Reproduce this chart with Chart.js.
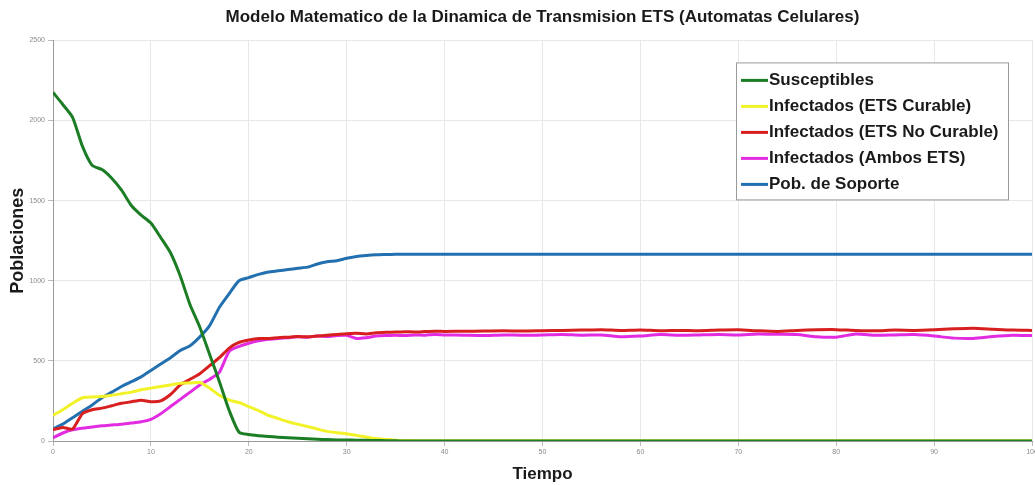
<!DOCTYPE html>
<html>
<head>
<meta charset="utf-8">
<script src="https://cdn.jsdelivr.net/npm/chart.js@4/dist/chart.umd.min.js"></script>
<style>
  html, body { margin: 0; padding: 0; background: #fff; }
  #wrap { width: 1035px; height: 485px; }
</style>
</head>
<body>
<div id="wrap"><canvas id="etsChart"></canvas></div>
<script>
// datos
const tiempo = [0,1,2,3,4,5,6,7,8,9,10,11,12,13,14,15,16,17,18,19,20,21,22,23,24,25,26,27,28,29,30,31,32,33,34,35,36,37,38,39,40,
    42,44,46,48,50,52,54,56,58,60,62,64,66,68,70,72,74,76,78,80,82,84,86,88,90,92,94,96,98,100];

const susceptibles = [2175,2100,2020,1840,1720,1694,1640,1565,1470,1410,1360,1270,1175,1030,850,710,540,370,190,55,40,33,28,24,20,17,14,11,9,7,6,5,4,3,2,1,0,0,0,0,0,
    0,0,0,0,0,0,0,0,0,0,0,0,0,0,0,0,0,0,0,0,0,0,0,0,0,0,0,0,0,0];
const infCurable = [160,195,235,270,275,278,285,295,305,320,330,340,350,360,362,365,330,285,255,240,215,190,160,140,120,105,90,75,60,52,45,35,25,15,10,5,3,2,2,2,2,
    2,2,2,2,2,2,2,2,2,2,2,2,2,2,2,2,2,2,2,2,2,2,2,2,2,2,2,2,2,2];
const infNoCurable = [70,85,75,170,195,205,220,235,245,255,245,250,290,350,385,420,470,520,580,615,630,640,640,645,648,652,650,655,660,665,670,672,668,675,678,680,682,680,683,685,684,
    685,686,688,686,688,690,692,695,690,693,688,690,688,692,694,688,684,690,694,695,690,688,692,690,694,700,704,698,692,690];
const infAmbos = [20,50,70,80,88,95,100,105,112,120,135,170,215,260,305,350,385,430,560,590,610,625,635,640,645,650,648,655,652,658,660,640,645,655,658,660,658,662,660,665,662,
    660,658,662,660,662,665,660,662,650,655,664,660,662,664,662,668,666,664,650,648,668,660,662,664,655,642,640,652,660,658];
const soporte = [75,105,145,185,225,270,305,340,370,400,440,480,520,565,595,650,720,835,920,1000,1020,1040,1055,1062,1070,1078,1085,1105,1118,1125,1140,1152,1158,1162,1164,1166,1166,1166,1166,1166,1166,
    1166,1166,1166,1166,1166,1166,1166,1166,1166,1166,1166,1166,1166,1166,1166,1166,1166,1166,1166,1166,1166,1166,1166,1166,1166,1166,1166,1166,1166,1166];

const yTicks = [0, 500, 1000, 1500, 2000, 2500];
const xTicks = [0, 10, 20, 30, 40, 50, 60, 70, 80, 90, 100];

const fuente = "'Liberation Sans', Arial, sans-serif";

function serie(label, valores, color) {
    return {
        label: label,
        data: valores.map((v, i) => ({ x: tiempo[i], y: v })),
        borderColor: color,
        backgroundColor: color,
        borderWidth: 3,
        pointRadius: 0,
        tension: 0.2,
        fill: false
    };
}

// leyenda con recuadro dentro del area del grafico
const leyendaCaja = {
    id: "leyendaCaja",
    afterDraw(chart) {
        const ctx = chart.ctx;
        const area = chart.chartArea;
        const right = area.right - 24;
        const top = area.top + 22;
        const width = 272;
        const left = right - width;
        const rowH = 26;
        const height = rowH * chart.data.datasets.length + 7;
        ctx.save();
        ctx.fillStyle = "#fff";
        ctx.fillRect(left, top, width, height);
        ctx.strokeStyle = "#9a9a9a";
        ctx.lineWidth = 1;
        ctx.strokeRect(left + 0.5, top + 0.5, width, height);
        ctx.font = "bold 17px " + fuente;
        ctx.textBaseline = "middle";
        chart.data.datasets.forEach((ds, i) => {
            const y = top + 18 + i * rowH;
            ctx.strokeStyle = ds.borderColor;
            ctx.lineWidth = 3;
            ctx.beginPath();
            ctx.moveTo(left + 5, y);
            ctx.lineTo(left + 32, y);
            ctx.stroke();
            ctx.fillStyle = "#1a1a1a";
            ctx.fillText(ds.label, left + 33, y);
        });
        ctx.restore();
    }
};

new Chart(document.getElementById("etsChart"), {
    type: "line",
    data: {
        datasets: [
            serie("Susceptibles", susceptibles, "#1b7d24"),
            serie("Infectados (ETS Curable)", infCurable, "#f2f22a"),
            serie("Infectados (ETS No Curable)", infNoCurable, "#d81f1f"),
            serie("Infectados (Ambos ETS)", infAmbos, "#e22ce2"),
            serie("Pob. de Soporte", soporte, "#2370b0")
        ]
    },
    options: {
        responsive: true,
        maintainAspectRatio: false,
        animation: false,
        layout: { padding: { top: 3, right: 0, left: 4, bottom: 0 } },
        plugins: {
            legend: { display: false },
            tooltip: { enabled: false },
            title: {
                display: true,
                fullSize: false,
                text: "Modelo Matematico de la Dinamica de Transmision ETS (Automatas Celulares)",
                color: "#1a1a1a",
                font: { family: fuente, size: 17, weight: "bold" },
                padding: { top: 4, bottom: 13 }
            }
        },
        scales: {
            x: {
                type: "linear",
                min: 0,
                max: 100,
                afterFit: s => { s.height = 44; s.paddingRight = 3; },
                afterBuildTicks: s => { s.ticks = xTicks.map(v => ({ value: v })); },
                ticks: { color: "#8a8a8a", font: { size: 7 }, padding: 2, maxRotation: 0 },
                grid: { color: "#e8e8e8", tickLength: 5, tickColor: "#bbb" },
                border: { color: "#9a9a9a" },
                title: {
                    display: true,
                    text: "Tiempo",
                    color: "#1a1a1a",
                    font: { family: fuente, size: 17, weight: "bold" },
                    padding: { top: 4, bottom: 0 }
                }
            },
            y: {
                min: 0,
                max: 2500,
                afterFit: s => { s.width = 49; },
                afterBuildTicks: s => { s.ticks = yTicks.map(v => ({ value: v })); },
                ticks: { color: "#8a8a8a", font: { size: 7 }, padding: 3, callback: v => String(v) },
                grid: { color: "#e8e8e8", tickLength: 5, tickColor: "#bbb" },
                border: { color: "#9a9a9a" },
                title: {
                    display: true,
                    text: "Poblaciones",
                    color: "#1a1a1a",
                    font: { family: fuente, size: 18, weight: "bold" },
                    padding: { top: 3, bottom: 4 }
                }
            }
        }
    },
    plugins: [leyendaCaja]
});
</script>
</body>
</html>
